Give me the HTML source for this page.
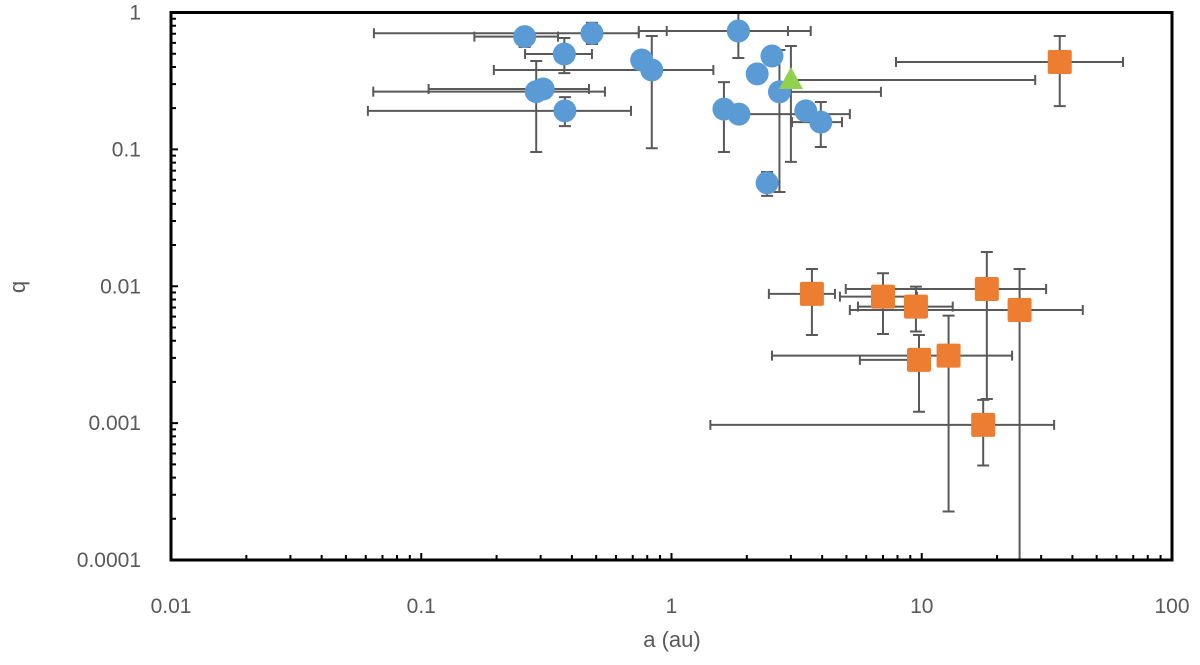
<!DOCTYPE html>
<html><head><meta charset="utf-8"><style>
html,body{margin:0;padding:0;background:#fff;}
svg{display:block;font-family:"Liberation Sans",sans-serif;}
</style></head><body>
<svg id="chart" width="1200" height="665" viewBox="0 0 1200 665" xmlns="http://www.w3.org/2000/svg">
<g id="errs"></g>
<g id="marks"></g>
<g id="axes"></g>
<text x="672" y="647" font-size="22" fill="#595959" text-anchor="middle">a (au)</text>
<text x="25" y="287" font-size="22" fill="#595959" text-anchor="middle" transform="rotate(-90 25 287)">q</text>
</svg>
<script>
// blue circles
const blueA=[0.259,0.481,0.373,0.76,0.834,0.288,0.307,0.375,1.85,1.85,2.52,2.2,2.7,1.62,1.86,3.44,3.95,2.41];
const blueQ=[0.666,0.705,0.497,0.45,0.38,0.264,0.276,0.191,0.733,0.733,0.481,0.356,0.263,0.197,0.181,0.191,0.158,0.0569];
const blueAlo=[0.163,0.0647,0.26,0.76,0.195,0.0643,0.107,0.0612,0.74,0.957,2.52,2.2,2.7,1.62,1.86,3.44,3.03,2.41];
const blueAhi=[0.352,0.74,0.481,0.76,1.47,0.542,0.468,0.689,2.92,3.6,2.52,2.2,6.87,1.62,5.16,3.44,4.8,2.41];
const blueQlo=[0.56,0.589,0.361,0.45,0.102,0.0957,0.276,0.148,0.465,0.733,0.481,0.356,0.0488,0.0957,0.181,0.191,0.104,0.0457];
const blueQhi=[0.75,0.842,0.651,0.45,0.673,0.442,0.276,0.241,1.0,0.733,0.481,0.356,0.532,0.31,0.181,0.191,0.222,0.0684];
// orange squares
const orA=[3.64,7.0,9.48,18.2,24.6,9.75,12.8,17.6,35.6];
const orQ=[0.00879,0.0084,0.0071,0.00955,0.00671,0.0029,0.00311,0.00097,0.435];
const orAlo=[2.45,4.71,5.56,4.97,5.16,5.66,2.52,1.43,7.89];
const orAhi=[4.5,9.57,13.3,31.4,44.0,9.75,22.96,33.8,63.7];
const orQlo=[0.0044,0.00448,0.00467,0.0015,0.00001,0.00121,0.000226,0.00049,0.207];
const orQhi=[0.01337,0.01245,0.00993,0.0178,0.01337,0.0044,0.0061,0.00148,0.673];
// green triangle
const grA=[3.0], grQ=[0.321], grAlo=[3.0], grAhi=[28.4], grQlo=[0.081], grQhi=[0.569];
const xTicks=[0.01,0.1,1,10,100], xLabels=["0.01","0.1","1","10","100"];
const yTicks=[0.0001,0.001,0.01,0.1,1], yLabels=["0.0001","0.001","0.01","0.1","1"];

const L=171,R=1172,T=12.5,B=560;
const X=v=>L+(Math.log10(v)+2)*(R-L)/4;
const Y=v=>T+(-Math.log10(v))*(B-T)/4;
const NS="http://www.w3.org/2000/svg";
function mk(tag,attrs,parent){const e=document.createElementNS(NS,tag);for(const k in attrs)e.setAttribute(k,attrs[k]);parent.appendChild(e);return e;}
const errs=document.getElementById('errs'),marks=document.getElementById('marks'),axes=document.getElementById('axes');
const clipY=v=>Math.min(B,Math.max(T,v));
function errbars(A,Q,Alo,Ahi,Qlo,Qhi){
  for(let i=0;i<A.length;i++){
    const x=X(A[i]),y=Y(Q[i]);
    const st={stroke:"#595959","stroke-width":2,fill:"none"};
    if(Alo[i]<A[i]||Ahi[i]>A[i]){
      const x1=X(Alo[i]),x2=X(Ahi[i]);
      const l=mk('path',Object.assign({d:`M${x1},${y}H${x2}M${x1},${y-5}V${y+5}M${x2},${y-5}V${y+5}`},st),errs);
      
      
    }
    if(Qlo[i]<Q[i]||Qhi[i]>Q[i]){
      const y1=Y(Qhi[i]),y2=Y(Qlo[i]);
      let d=`M${x},${clipY(y1)}V${clipY(y2)}`;
      if(y1>=T)d+=`M${x-6},${y1}H${x+6}`;
      if(y2<=B)d+=`M${x-6},${y2}H${x+6}`;
      const l=mk('path',Object.assign({d:d},st),errs);
      
      
    }
  }
}
errbars(blueA,blueQ,blueAlo,blueAhi,blueQlo,blueQhi);
errbars(orA,orQ,orAlo,orAhi,orQlo,orQhi);
errbars(grA,grQ,grAlo,grAhi,grQlo,grQhi);
for(let i=0;i<blueA.length;i++){
  const c=mk('circle',{cx:X(blueA[i]),cy:Y(blueQ[i]),r:11.5,fill:"#5B9BD5"},marks);
  
  
}
for(let i=0;i<orA.length;i++){
  const s=mk('rect',{x:X(orA[i])-12,y:Y(orQ[i])-12,width:24,height:24,rx:2,fill:"#ED7D31"},marks);
  
  
}
for(let i=0;i<grA.length;i++){
  const x=X(grA[i]),y=Y(grQ[i]);
  const t=mk('polygon',{points:`${x},${y-13} ${x+12},${y+9} ${x-12},${y+9}`,fill:"#92D050"},marks);
  
  
}
// frame
const fr=mk('rect',{x:L,y:T,width:R-L,height:B-T,fill:"none",stroke:"#000","stroke-width":3},axes);


// ticks
let td="";
for(let d=-2;d<2;d++)for(let m=1;m<10;m++){const x=X(m*Math.pow(10,d));td+=`M${x},${B}V${B-(m==1?7:5)}`;}
for(let d=-4;d<0;d++)for(let m=1;m<10;m++){const y=Y(m*Math.pow(10,d));td+=`M${L},${y}H${L+(m==1?7:5)}`;}
const tk=mk('path',{d:td,stroke:"#000","stroke-width":2,fill:"none"},axes);


for(let i=0;i<xTicks.length;i++){
  const t=mk('text',{x:X(xTicks[i]),y:613,"font-size":21,fill:"#595959","text-anchor":"middle"},axes);
  t.textContent=xLabels[i];
  
  
}
for(let i=0;i<yTicks.length;i++){
  const t=mk('text',{x:141,y:Y(yTicks[i])+7,"font-size":21,fill:"#595959","text-anchor":"end"},axes);
  t.textContent=yLabels[i];
  
  
}
</script>
</body></html>
